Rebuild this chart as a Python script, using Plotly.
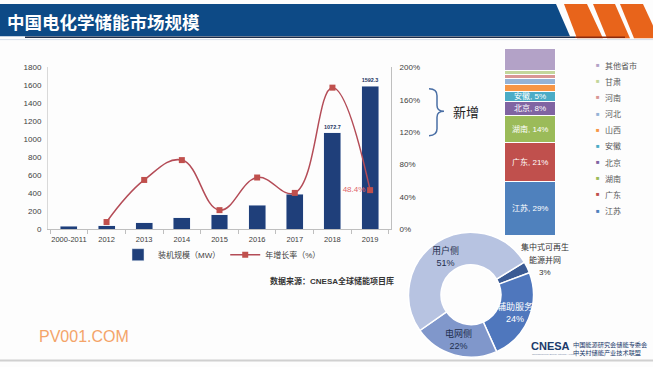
import math
import plotly.graph_objects as go

W, H = 653, 367


def px(x):
    return x / W


def py(y):
    return 1 - y / H


def poly(points):
    s = "M " + f"{px(points[0][0]):.5f},{py(points[0][1]):.5f}"
    for x, y in points[1:]:
        s += f" L {px(x):.5f},{py(y):.5f}"
    return s + " Z"


# ---------------- data ----------------
years = ["2000-2011", "2012", "2013", "2014", "2015", "2016", "2017", "2018", "2019"]
capacity_mw = [35, 38, 72, 127, 163, 268, 389, 1072.7, 1592.3]
capacity_labels = ["", "", "", "", "", "", "", "1072.7", "1592.3"]
growth_pct = [None, 9, 61, 85.5, 23.7, 64, 45, 175, 48.4]
growth_labels = ["", "", "", "", "", "", "", "", "48.4%"]
y_ticks = [0, 200, 400, 600, 800, 1000, 1200, 1400, 1600, 1800]
y2_ticks = [0, 40, 80, 120, 160, 200]

provinces = ["江苏", "广东", "湖南", "北京", "安徽", "山西", "河北", "河南", "甘肃", "其他省市"]
province_share = [29, 21, 14, 8, 5, 4, 3, 2, 2.5, 11.5]
province_labels = ["江苏, 29%", "广东, 21%", "湖南, 14%", "北京, 8%", "安徽, 5%", "", "", "", "", ""]
province_colors = ["#4f81bd", "#c0504d", "#9bbb59", "#8064a2", "#4bacc6",
                   "#f79646", "#95b3d7", "#d99694", "#c3d69b", "#b3a2c7"]

segments = ["集中式可再生能源并网", "辅助服务", "电网侧", "用户侧"]
segment_share = [3, 24, 22, 51]
segment_text = ["", "辅助服务<br>24%", "电网侧<br>22%", "用户侧<br>51%"]
segment_colors = ["#3b5b94", "#4f77bd", "#8097cb", "#b7c3e1"]
segment_text_colors = ["#333333", "#ffffff", "#1f2f4f", "#1f2f4f"]
outside_label_lines = ["集中式可再生", "能源并网", "3%"]

FONT = "Liberation Sans, Noto Sans CJK SC"
CJK = "Noto Sans CJK SC"

# donut geometry (pixels)
PIE_CX, PIE_CY, PIE_R = 471, 298, 64
PIE_HOLE = 0.48
PIE_ROT = 58.6

fig = go.Figure()

fig.add_trace(go.Bar(
    x=years, y=capacity_mw, name="装机规模（MW）",
    marker=dict(color="#1f3f7a"), width=0.45,
    text=[f"<b>{t}</b>" if t else "" for t in capacity_labels],
    textposition="outside", textfont=dict(size=8.5, color="#1f3864", family=FONT),
    cliponaxis=False, xaxis="x", yaxis="y", hoverinfo="skip"))

fig.add_trace(go.Scatter(
    x=years, y=growth_pct, name="年增长率（%）",
    mode="lines+markers+text",
    line=dict(color="#b44c57", width=1.5, shape="spline", smoothing=1.2),
    marker=dict(symbol="square", size=6, color="#c0504d"),
    text=growth_labels, textposition="middle left",
    textfont=dict(size=8, color="#e0666b", family=FONT),
    cliponaxis=False, xaxis="x", yaxis="y2", hoverinfo="skip"))

for name, share, color in zip(provinces, province_share, province_colors):
    fig.add_trace(go.Bar(
        x=["新增"], y=[share], name=name, width=0.74,
        marker=dict(color=color, line=dict(color="white", width=1)),
        showlegend=False, xaxis="x2", yaxis="y3", hoverinfo="skip"))

fig.add_trace(go.Pie(
    labels=segments, values=segment_share, hole=PIE_HOLE, sort=False,
    direction="clockwise", rotation=PIE_ROT,
    marker=dict(colors=segment_colors, line=dict(color="white", width=1.5)),
    textinfo="none",
    domain=dict(x=[px(PIE_CX - PIE_R), px(PIE_CX + PIE_R)],
                y=[py(PIE_CY + PIE_R), py(PIE_CY - PIE_R)]),
    showlegend=False, hoverinfo="skip"))

annotations = []

# stacked bar labels (data coords)
cum = 0
for lab, share in zip(province_labels, province_share):
    mid = cum + share / 2
    cum += share
    if lab:
        annotations.append(dict(x="新增", y=mid, xref="x2", yref="y3", text=lab,
                                showarrow=False, font=dict(size=8, color="white", family=FONT)))

# stacked bar legend
for i, (name, color) in enumerate(zip(provinces[::-1], province_colors[::-1])):
    yy = 62.7 + i * 16.56
    annotations.append(dict(x=px(598), y=py(yy), xref="paper", yref="paper", text="■",
                            showarrow=False, xanchor="center", yanchor="middle",
                            font=dict(size=6, color=color, family=FONT)))
    annotations.append(dict(x=px(603), y=py(yy), xref="paper", yref="paper", text=name,
                            showarrow=False, xanchor="left", yanchor="middle",
                            font=dict(size=8, color="#595959", family=CJK)))

# donut slice labels placed at slice mid-angles
total = sum(segment_share)
cum = 0
r_lab = PIE_R * (1 + PIE_HOLE) / 2
for txt, v, col in zip(segment_text, segment_share, segment_text_colors):
    mid = math.radians(PIE_ROT + (cum + v / 2) / total * 360)
    cum += v
    if txt:
        lx = PIE_CX + r_lab * math.sin(mid)
        ly = PIE_CY - r_lab * math.cos(mid)
        annotations.append(dict(x=px(lx), y=py(ly), xref="paper", yref="paper", text=txt,
                                showarrow=False, xanchor="center", yanchor="middle",
                                font=dict(size=9, color=col, family=FONT)))

for i, t in enumerate(outside_label_lines):
    annotations.append(dict(x=px(545), y=py(249 + i * 13), xref="paper", yref="paper", text=t,
                            showarrow=False, xanchor="center", yanchor="middle",
                            font=dict(size=8, color="#333333", family=FONT)))

annotations += [
    dict(x=px(5), y=py(18), xref="paper", yref="paper", text="<b>中国电化学储能市场规模</b>",
         showarrow=False, xanchor="left", yanchor="middle",
         font=dict(size=17.5, color="white", family=CJK)),
    dict(x=px(466), y=py(110), xref="paper", yref="paper", text="新增",
         showarrow=False, xanchor="center", yanchor="middle",
         font=dict(size=13, color="#222222", family=CJK)),
    dict(x=px(332), y=py(284), xref="paper", yref="paper", text="<b>数据来源：CNESA全球储能项目库</b>",
         showarrow=False, xanchor="center", yanchor="middle",
         font=dict(size=8, color="#333333", family=FONT)),
    dict(x=px(37), y=py(341), xref="paper", yref="paper", text="PV001.COM",
         showarrow=False, xanchor="left", yanchor="middle",
         font=dict(size=16, color="#f4a469", family="Liberation Sans")),
    dict(x=px(529), y=py(350.5), xref="paper", yref="paper", text="<b>CNESA</b>",
         showarrow=False, xanchor="left", yanchor="middle",
         font=dict(size=11, color="#1b3a6b", family="Liberation Sans")),
    dict(x=px(530), y=py(359), xref="paper", yref="paper", text="Zhongguancun Energy Storage Alliance",
         showarrow=False, xanchor="left", yanchor="middle",
         font=dict(size=2.5, color="#7a8aa5", family="Liberation Sans")),
    dict(x=px(571), y=py(349), xref="paper", yref="paper", text="中国能源研究会储能专委会",
         showarrow=False, xanchor="left", yanchor="middle",
         font=dict(size=6.2, color="#1b3a6b", family=CJK)),
    dict(x=px(571), y=py(357.5), xref="paper", yref="paper", text="中关村储能产业技术联盟",
         showarrow=False, xanchor="left", yanchor="middle",
         font=dict(size=6.2, color="#1b3a6b", family=CJK)),
]

bracket = ("M " + f"{px(429)},{py(87)}" +
           f" Q {px(437)},{py(87)} {px(437)},{py(94)}" +
           f" L {px(437)},{py(104)}" +
           f" Q {px(437)},{py(110)} {px(444)},{py(110)}" +
           f" Q {px(437)},{py(110)} {px(437)},{py(116)}" +
           f" L {px(437)},{py(128)}" +
           f" Q {px(437)},{py(135)} {px(429)},{py(135)}")

shapes = [
    dict(type="path", xref="paper", yref="paper",
         path=poly([(0, 0), (556, 0), (570, 33), (0, 33)]),
         fillcolor="#0d4a86", line=dict(width=0), layer="below"),
    dict(type="path", xref="paper", yref="paper",
         path=poly([(564, 0), (587, 0), (603, 35), (577, 35)]),
         fillcolor="#e8641b", line=dict(width=0)),
    dict(type="path", xref="paper", yref="paper",
         path=poly([(593, 0), (615, 0), (630, 35), (607, 35)]),
         fillcolor="#e8641b", line=dict(width=0)),
    dict(type="path", xref="paper", yref="paper",
         path=poly([(620, 0), (643, 0), (653, 22), (653, 35), (634, 35)]),
         fillcolor="#e8641b", line=dict(width=0)),
    dict(type="line", xref="paper", yref="paper", x0=px(25), x1=px(575), y0=py(34), y1=py(34),
         line=dict(color="#1c2d4a", width=1.5)),
    dict(type="line", xref="paper", yref="paper", x0=px(575), x1=px(625), y0=py(34), y1=py(34),
         line=dict(color="#8b2a0e", width=1.5)),
    dict(type="line", xref="paper", yref="paper", x0=0, x1=1, y0=py(36.5), y1=py(36.5),
         line=dict(color="#d5dee9", width=1)),
    dict(type="line", xref="paper", yref="paper", x0=0, x1=1, y0=py(365.5), y1=py(365.5),
         line=dict(color="#d0d0d0", width=2)),
    dict(type="path", xref="paper", yref="paper", path=bracket,
         line=dict(color="#4a6fa5", width=1.5)),
]

fig.update_layout(
    width=W, height=H,
    margin=dict(l=0, r=0, t=0, b=0),
    paper_bgcolor="#fdfdfd", plot_bgcolor="rgba(0,0,0,0)",
    barmode="stack",
    font=dict(family=FONT, size=8, color="#404040"),
    showlegend=True,
    legend=dict(orientation="h", x=px(222), y=py(257), xanchor="center", yanchor="middle",
                traceorder="normal",
                font=dict(size=8, color="#404040", family=FONT), bgcolor="rgba(0,0,0,0)",
                itemwidth=30),
    xaxis=dict(domain=[px(48), px(391)], type="category", anchor="y", tickangle=0,
               showline=True, linecolor="#bfbfbf", linewidth=1,
               ticks="outside", tickson="boundaries", ticklen=4, tickcolor="#bfbfbf",
               ticklabelstandoff=3,
               tickfont=dict(size=7.5, color="#404040"), showgrid=False, fixedrange=True),
    yaxis=dict(domain=[py(231), py(65)], range=[0, 1800], tickvals=y_ticks,
               showline=True, linecolor="#d9d9d9", showgrid=False, zeroline=False,
               tickfont=dict(size=8, color="#404040"), ticklabelstandoff=4),
    yaxis2=dict(overlaying="y", side="right", anchor="x", range=[0, 200], tickvals=y2_ticks,
                ticktext=[f"{v}%" for v in y2_ticks], showline=True, linecolor="#bfbfbf",
                showgrid=False, zeroline=False, tickfont=dict(size=8, color="#404040"),
                ticklabelstandoff=6),
    xaxis2=dict(domain=[px(495), px(565)], anchor="y3", visible=False, type="category",
                range=[-0.5, 0.5]),
    yaxis3=dict(domain=[py(237), py(46)], anchor="x2", range=[0, 100], visible=False),
    annotations=annotations,
    shapes=shapes,
)

fig.write_html("out.html", config={"displayModeBar": False},
               post_script="document.body.style.margin='0px';document.body.style.padding='0px';"
                           "document.body.style.overflow='hidden';")
